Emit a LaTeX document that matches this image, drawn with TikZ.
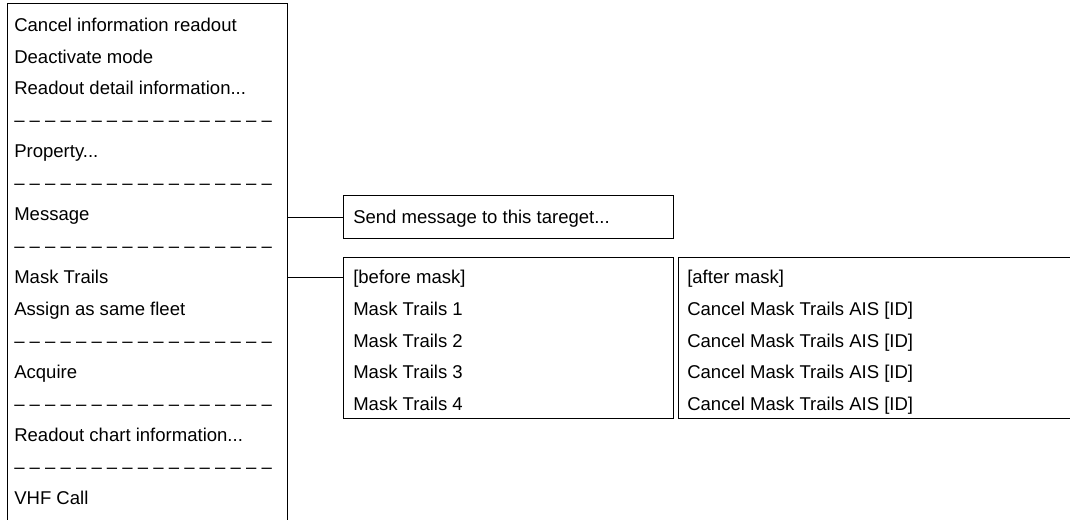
\documentclass[tikz,border=0pt]{standalone}
\usepackage{fontspec}
\setmainfont{Liberation Sans}
\usetikzlibrary{positioning}
\tikzset{
	menubox/.style={draw, line width=1pt, anchor=north west, inner sep=0pt},
	item/.style={anchor=base west, inner sep=0pt, font=\fontsize{13.9}{16}\selectfont},
	link/.style={line width=0.8pt}
}
\newcommand{\dashrow}{– – – – – – – – – – – – – – – – –}
\newcommand{\mdots}{...}

\begin{document}
\begin{tikzpicture}[x=0.75pt, y=-0.75pt]
		\useasboundingbox (0,0) rectangle (1070,519);
		\clip (0,0) rectangle (1070,519);
		% left context menu (open at the bottom edge)
		\node[menubox, minimum width=210pt, minimum height=400pt] (menu) at (7,3) {};
		\foreach \txt [count=\i] in {Cancel information readout, Deactivate mode,
			Readout detail information\mdots, \dashrow, Property\mdots, \dashrow, Message,
			\dashrow, Mask Trails, Assign as same fleet, \dashrow, Acquire, \dashrow,
			Readout chart information\mdots, \dashrow, VHF Call}
			\node[item] (m\i) at (14, {25+31.55*(\i-1)+6.5}) {\txt};
		
		% submenu of Message
		\node[menubox, minimum width=247.5pt, minimum height=32.25pt] (send) at (343,195) {};
		\node[item] (s1) at (353, 217+6.5) {Send message to this tareget...};
		
		% submenus of Mask Trails
		\node[menubox, minimum width=247.5pt, minimum height=120.75pt] (before) at (343,257) {};
		\node[menubox, minimum width=301.5pt, minimum height=120.75pt] (after) at (678,257) {};
		\foreach \txt [count=\i] in {{[before mask]}, Mask Trails 1, Mask Trails 2, Mask Trails 3, Mask Trails 4}
			\node[item] (b\i) at (353, {277.4+31.55*(\i-1)+6.5}) {\txt};
		\foreach \txt [count=\i] in {{[after mask]}, Cancel Mask Trails AIS [ID], Cancel Mask Trails AIS [ID],
			Cancel Mask Trails AIS [ID], Cancel Mask Trails AIS [ID]}
			\node[item] (a\i) at (687, {277.4+31.55*(\i-1)+6.5}) {\txt};
		
		\draw[link] (menu.east |- send.west) -- (send.west);
		\draw[link] (menu.east |- m9) -- (before.west |- m9);
	\end{tikzpicture}
\end{document}
